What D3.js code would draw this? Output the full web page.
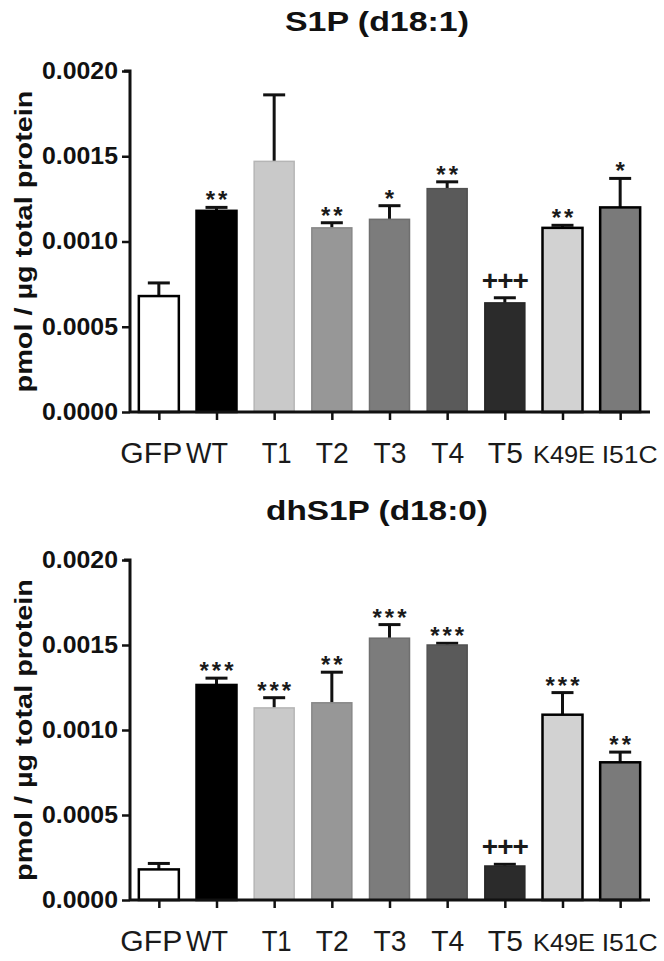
<!DOCTYPE html>
<html>
<head>
<meta charset="utf-8">
<script src="https://cdn.jsdelivr.net/npm/d3@7"></script>
<style>
  body { margin: 0; background: #fff; }
  svg { display: block; font-family: 'Liberation Sans', Arial, sans-serif; }
</style>
</head>
<body>
<svg id="chart" width="664" height="961"></svg>
<script>
const categories = ['GFP', 'WT', 'T1', 'T2', 'T3', 'T4', 'T5', 'K49E', 'I51C'];
const yTicks = [0, 0.0005, 0.001, 0.0015, 0.002];

// S1P (d18:1)
const s1pMean = [0.00068, 0.00118, 0.00147, 0.00108, 0.00113, 0.00131, 0.00064, 0.00108, 0.0012];
const s1pErr = [0.000077, 0.00002, 0.00039, 0.00003, 0.00008, 0.00004, 0.00003, 0.000015, 0.00017];
const s1pSig = ['', '**', '', '**', '*', '**', '+++', '**', '*'];

// dhS1P (d18:0)
const dhMean = [0.00018, 0.001265, 0.00113, 0.00116, 0.00154, 0.0015, 0.0002, 0.00109, 0.00081];
const dhErr = [0.000035, 0.00004, 0.00006, 0.00018, 0.00008, 0.00001, 0.00001, 0.00013, 0.00006];
const dhSig = ['', '***', '***', '**', '***', '***', '+++', '***', '**'];

const fills = ['#ffffff', '#000000', '#c9c9c9', '#979797', '#7c7c7c', '#5a5a5a', '#2b2b2b', '#d2d2d2', '#7a7a7a'];
const outlined = ['GFP', 'WT', 'K49E', 'I51C'];

// label fit (width, shift) as in the picture
const labelFit = {
  GFP: [62, -8], WT: [42, -10], T1: [30, 2], T2: [33, 0], T3: [33, 0],
  T4: [33, 0], T5: [35, 0], K49E: [62, 1], I51C: [56, 9]
};

const svg = d3.select('#chart');
const x = d3.scalePoint().domain(categories).range([130, 649]).padding(0.5);
const barW = 40;

function panel(title, mean, err, sig, top, bottom) {
  const y = d3.scaleLinear().domain([0, 0.002]).range([bottom, top]);
  const g = svg.append('g');
  const rows = categories.map((c, i) => ({ c, i, v: mean[i], e: err[i], s: sig[i] }));

  // title
  g.append('text')
    .attr('x', 377).attr('y', top - 40)
    .attr('text-anchor', 'middle')
    .attr('font-size', 27).attr('font-weight', 'bold').attr('fill', '#111')
    .attr('textLength', title.length > 11 ? 222 : 184)
    .attr('lengthAdjust', 'spacingAndGlyphs')
    .text(title);

  // error bars (upward only)
  const eb = g.selectAll('.err').data(rows).enter().append('g')
    .attr('stroke', '#111').attr('stroke-width', 3);
  eb.append('line')
    .attr('x1', d => x(d.c)).attr('x2', d => x(d.c))
    .attr('y1', d => y(d.v)).attr('y2', d => y(d.v + d.e));
  eb.append('line')
    .attr('x1', d => x(d.c) - 11).attr('x2', d => x(d.c) + 11)
    .attr('y1', d => y(d.v + d.e)).attr('y2', d => y(d.v + d.e));

  // bars
  g.selectAll('.bar').data(rows).enter().append('rect')
    .attr('x', d => x(d.c) - barW / 2)
    .attr('width', barW)
    .attr('y', d => y(d.v))
    .attr('height', d => y(0) - y(d.v))
    .attr('fill', d => fills[d.i])
    .attr('stroke', d => outlined.includes(d.c) ? '#000' : d3.color(fills[d.i]).darker(0.3))
    .attr('stroke-width', d => outlined.includes(d.c) ? 2.5 : 1.5);

  // significance marks
  g.selectAll('.sig').data(rows.filter(d => d.s)).enter().append('text')
    .attr('x', d => x(d.c))
    .attr('y', d => d.s[0] === '+' ? y(d.v + d.e) - 8 : y(d.v + d.e) + 1)
    .attr('text-anchor', 'middle')
    .attr('font-weight', 'bold')
    .attr('font-size', d => d.s[0] === '+' ? 28 : 24)
    .attr('letter-spacing', d => d.s[0] === '+' ? -1 : 3)
    .attr('dx', d => d.s[0] === '+' ? 0 : 1.5)
    .attr('fill', '#1a1a1a')
    .text(d => d.s);

  // y axis
  const ya = g.append('g')
    .attr('transform', 'translate(130,0)')
    .call(d3.axisLeft(y).tickValues(yTicks).tickFormat(d3.format('.4f')).tickSize(8).tickPadding(4));
  ya.select('.domain').attr('stroke', '#111').attr('stroke-width', 3).attr('d', `M-6,${top}H0V${bottom}`);
  ya.selectAll('.tick line').attr('stroke', '#111').attr('stroke-width', 2.5);
  ya.selectAll('.tick text')
    .attr('font-size', 23).attr('font-weight', 'bold').attr('fill', '#111')
    .attr('font-family', "'Liberation Sans', Arial, sans-serif")
    .attr('textLength', 76).attr('lengthAdjust', 'spacingAndGlyphs');

  // x axis
  const xa = g.append('g')
    .attr('transform', `translate(0,${bottom})`)
    .call(d3.axisBottom(x).tickSize(8).tickPadding(0));
  xa.select('.domain').attr('stroke', '#111').attr('stroke-width', 3).attr('d', 'M130,0H650');
  xa.selectAll('.tick line').attr('stroke', '#111').attr('stroke-width', 2.5);
  xa.selectAll('.tick text')
    .attr('y', 51).attr('dy', 0)
    .attr('fill', '#1a1a1a')
    .attr('font-family', "'Liberation Sans', Arial, sans-serif")
    .attr('font-size', d => d.length > 3 ? 24 : 30)
    .attr('x', d => labelFit[d][1])
    .attr('textLength', d => labelFit[d][0])
    .attr('lengthAdjust', 'spacingAndGlyphs');

  // y axis label
  g.append('text')
    .attr('transform', `translate(32,${(top + bottom) / 2}) rotate(-90)`)
    .attr('text-anchor', 'middle')
    .attr('font-size', 23).attr('font-weight', 'bold').attr('fill', '#111')
    .attr('textLength', 302).attr('lengthAdjust', 'spacingAndGlyphs')
    .text('pmol / µg total protein');
}

panel('S1P (d18:1)', s1pMean, s1pErr, s1pSig, 71, 412);
panel('dhS1P (d18:0)', dhMean, dhErr, dhSig, 560, 900);
</script>
</body>
</html>
